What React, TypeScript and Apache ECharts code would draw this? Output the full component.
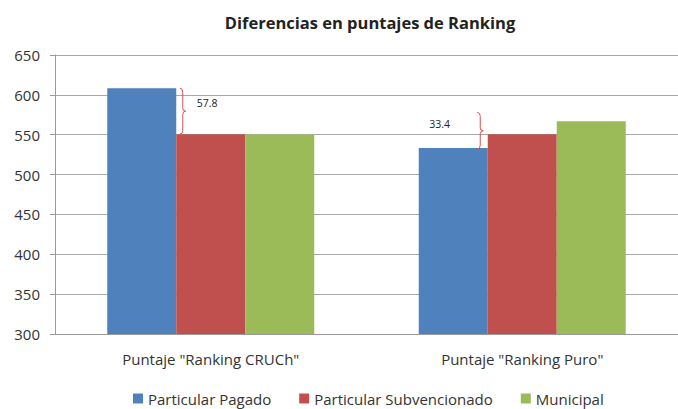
import React, { useEffect, useRef } from "react";
import * as echarts from "echarts";

const categories = ['Puntaje "Ranking CRUCh"', 'Puntaje "Ranking Puro"'];
const particularPagado = [608.4, 533.4];
const particularSubvencionado = [550.6, 550.6];
const municipal = [550.3, 566.8];
const diffLabels = ["57.8", "33.4"];
const braceLow = [550.6, 532.0];
const braceHigh = [608.4, 578.0];
const yTicks = { min: 300, max: 650, interval: 50 };

const FONT = "'Open Sans', 'Noto Sans', sans-serif";

export default function App() {
  const ref = useRef<HTMLDivElement>(null);
  useEffect(() => {
    const chart = echarts.init(ref.current!, null, { renderer: "svg" });
    const braceData = categories.map((_, i) => [i, braceLow[i], braceHigh[i]]);
    chart.setOption({
      animation: false,
      backgroundColor: "#ffffff",
      textStyle: { fontFamily: FONT },
      title: {
        text: "Diferencias en puntajes de Ranking",
        left: 365,
        textAlign: "center",
        top: 9,
        textStyle: { fontSize: 16.5, fontWeight: "bold", color: "#222", fontFamily: FONT },
      },
      legend: {
        top: 391,
        left: 133,
        icon: "rect",
        itemWidth: 10,
        itemHeight: 10,
        itemGap: 28,
        padding: 0,
        textStyle: { fontSize: 15, color: "#333", fontFamily: FONT },
        data: ["Particular Pagado", "Particular Subvencionado", "Municipal"],
      },
      grid: { left: 55, top: 55, width: 624, bottom: 75, containLabel: false },
      xAxis: {
        type: "category",
        data: categories,
        axisLine: { lineStyle: { color: "#9a9a9a" } },
        axisTick: { show: false },
        axisLabel: { fontSize: 15, color: "#333", margin: 17, fontFamily: FONT },
      },
      yAxis: {
        type: "value",
        min: yTicks.min,
        max: yTicks.max,
        interval: yTicks.interval,
        axisLine: { show: true, lineStyle: { color: "#9a9a9a" } },
        axisTick: { show: true, length: 5, lineStyle: { color: "#9a9a9a" } },
        axisLabel: { fontSize: 15, color: "#333", margin: 15, fontFamily: FONT },
        splitLine: { lineStyle: { color: "#a8a8a8" } },
      },
      series: [
        {
          name: "Particular Pagado",
          type: "bar",
          data: particularPagado,
          barWidth: 69,
          barGap: "0%",
          itemStyle: { color: "#4F81BD" },
        },
        {
          name: "Particular Subvencionado",
          type: "bar",
          data: particularSubvencionado,
          barWidth: 69,
          barGap: "0%",
          itemStyle: { color: "#C0504D" },
        },
        {
          name: "Municipal",
          type: "bar",
          data: municipal,
          barWidth: 69,
          barGap: "0%",
          itemStyle: { color: "#9BBB59" },
        },
        {
          name: "brace",
          type: "custom",
          data: braceData,
          z: 10,
          renderItem: (params: any, api: any) => {
            const idx = api.value(0);
            const top = api.coord([idx, api.value(2)]);
            const bot = api.coord([idx, api.value(1)]);
            const dx = params.dataIndex === 0 ? -28 : -42;
            const x = top[0] + dx;
            const y1 = top[1];
            const y2 = bot[1];
            const ym = (y1 + y2) / 2;
            const c = "#d9534f";
            const st = { stroke: c, lineWidth: 1, fill: "none" };
            const textX = params.dataIndex === 0 ? x + 14 : x - 51;
            const textY = params.dataIndex === 0 ? y1 + 15 : ym - 7;
            return {
              type: "group",
              children: [
                { type: "bezierCurve", shape: { x1: x - 3, y1: y1, x2: x, y2: y1 + 4, cpx1: x, cpy1: y1 }, style: st },
                { type: "line", shape: { x1: x, y1: y1 + 4, x2: x, y2: ym - 3 }, style: st },
                { type: "bezierCurve", shape: { x1: x, y1: ym - 3, x2: x + 3, y2: ym, cpx1: x, cpy1: ym }, style: st },
                { type: "bezierCurve", shape: { x1: x + 3, y1: ym, x2: x, y2: ym + 3, cpx1: x, cpy1: ym }, style: st },
                { type: "line", shape: { x1: x, y1: ym + 3, x2: x, y2: y2 - 4 }, style: st },
                { type: "bezierCurve", shape: { x1: x, y1: y2 - 4, x2: x - 3, y2: y2, cpx1: x, cpy1: y2 }, style: st },
                {
                  type: "text",
                  style: {
                    text: diffLabels[params.dataIndex],
                    x: textX,
                    y: textY,
                    fill: "#222",
                    font: `10.5px ${FONT}`,
                    textVerticalAlign: "middle",
                  },
                },
              ],
            };
          },
        },
      ],
    });
    return () => chart.dispose();
  }, []);
  return <div ref={ref} style={{ width: 678, height: 409, position: "absolute", left: 0, top: 0 }} />;
}
